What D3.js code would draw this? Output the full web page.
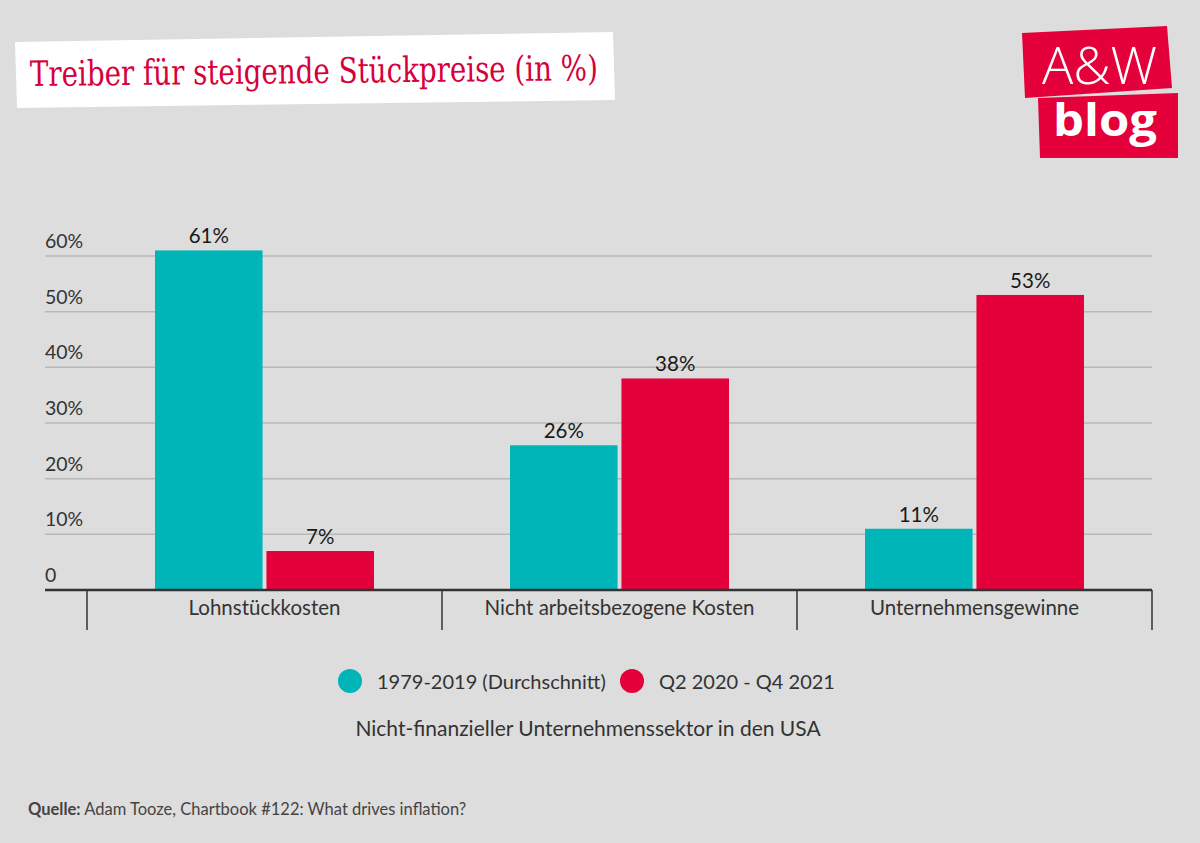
<!DOCTYPE html>
<html>
<head>
<meta charset="utf-8">
<script src="https://cdn.jsdelivr.net/npm/d3@7"></script>
<style>
  body { margin: 0; background: #dddddd; }
  svg { display: block; }
</style>
</head>
<body>
<div id="chart"></div>
<script>
(function () {

    const categories = ["Lohnstückkosten", "Nicht arbeitsbezogene Kosten", "Unternehmensgewinne"]
    const seriesNames = ["1979-2019 (Durchschnitt)", "Q2 2020 - Q4 2021"]
    const avg7919 = [61, 26, 11]
    const q2q4 = [7, 38, 53]
    const yTicks = [0, 10, 20, 30, 40, 50, 60]

    const colors = ["#00b5b8", "#e4003a"]
    const width = 1200, height = 843
    const font = "Lato, 'Open Sans', sans-serif"

    const rows = categories.map((c, i) => ({ cat: c, values: [avg7919[i], q2q4[i]] }))

    const svg = d3.select("#chart")
        .append("svg")
        .attr("width", width)
        .attr("height", height)

    svg.append("rect").attr("width", width).attr("height", height).attr("fill", "#dddddd")

    // title box
    svg.append("polygon")
        .attr("points", "15,42 613,32 615,100 17,108")
        .attr("fill", "#ffffff")
    svg.append("text")
        .attr("x", 30).attr("y", 86)
        .attr("transform", "rotate(-0.6 30 86)")
        .attr("font-family", "'DejaVu Serif Condensed', 'DejaVu Serif', serif")
        .attr("font-stretch", "condensed")
        .attr("font-size", 35)
        .attr("textLength", 568)
        .attr("lengthAdjust", "spacingAndGlyphs")
        .attr("fill", "#d6003c")
        .text("Treiber für steigende Stückpreise (in %)")

    // logo
    const logo = svg.append("g")
    logo.append("polygon").attr("points", "1022,33 1167,26 1172,88 1025,98").attr("fill", "#e4003a")
    logo.append("polygon").attr("points", "1038,98 1178,93 1178,158 1040,158").attr("fill", "#e4003a")
    logo.append("text")
        .attr("x", 1042).attr("y", 84)
        .attr("font-family", "'Open Sans', sans-serif")
        .attr("font-weight", 300)
        .attr("font-size", 52)
        .attr("textLength", 115)
        .attr("lengthAdjust", "spacingAndGlyphs")
        .attr("fill", "#fff")
        .text("A&W")
    logo.append("text")
        .attr("x", 1053).attr("y", 136)
        .attr("font-family", "'Open Sans', sans-serif")
        .attr("font-weight", 700)
        .attr("font-size", 44)
        .attr("textLength", 104)
        .attr("lengthAdjust", "spacingAndGlyphs")
        .attr("fill", "#fff")
        .text("blog")

    // scales
    const x0 = d3.scaleBand()
        .domain(categories)
        .range([87, 1152])
        .paddingInner(0)
        .paddingOuter(0)

    const groupWidth = 219
    const x1 = d3.scaleBand()
        .domain([0, 1])
        .range([0, groupWidth])
        .paddingInner(0.035)

    const y = d3.scaleLinear()
        .domain([0, 60])
        .range([590, 256])

    // grid
    const grid = svg.append("g")
    grid.selectAll("line")
        .data(yTicks.filter(d => d > 0))
        .enter()
        .append("line")
        .attr("x1", 45).attr("x2", 1152)
        .attr("y1", d => y(d)).attr("y2", d => y(d))
        .attr("stroke", "#b8b8b8")
        .attr("stroke-width", 1.5)

    grid.selectAll("text")
        .data(yTicks)
        .enter()
        .append("text")
        .attr("x", 45)
        .attr("y", d => y(d) - 8)
        .attr("font-family", font)
        .attr("font-size", 19.5)
        .attr("fill", "#333")
        .text(d => d === 0 ? "0" : d + "%")

    // bars
    const groups = svg.append("g")
        .selectAll("g")
        .data(rows)
        .enter()
        .append("g")
        .attr("transform", d => `translate(${x0(d.cat) + (x0.bandwidth() - groupWidth) / 2},0)`)

    groups.selectAll("rect")
        .data(d => d.values)
        .enter()
        .append("rect")
        .attr("x", (d, i) => x1(i))
        .attr("y", d => y(d))
        .attr("width", x1.bandwidth())
        .attr("height", d => y(0) - y(d))
        .attr("fill", (d, i) => colors[i])

    groups.selectAll("text")
        .data(d => d.values)
        .enter()
        .append("text")
        .attr("x", (d, i) => x1(i) + x1.bandwidth() / 2)
        .attr("y", d => y(d) - 7)
        .attr("text-anchor", "middle")
        .attr("font-family", font)
        .attr("font-size", 20.5)
        .attr("fill", "#1a1a1a")
        .text(d => d + "%")

    // x axis
    const xAxis = svg.append("g")
    xAxis.append("line")
        .attr("x1", 45).attr("x2", 1152)
        .attr("y1", y(0)).attr("y2", y(0))
        .attr("stroke", "#333")
        .attr("stroke-width", 2.5)

    const tickXs = categories.map(c => x0(c)).concat([x0.range()[1]])
    xAxis.selectAll("line.tick")
        .data(tickXs)
        .enter()
        .append("line")
        .attr("class", "tick")
        .attr("x1", d => d).attr("x2", d => d)
        .attr("y1", y(0)).attr("y2", y(0) + 40)
        .attr("stroke", "#333")
        .attr("stroke-width", 1.5)

    xAxis.selectAll("text")
        .data(categories)
        .enter()
        .append("text")
        .attr("x", d => x0(d) + x0.bandwidth() / 2)
        .attr("y", 615)
        .attr("text-anchor", "middle")
        .attr("font-family", font)
        .attr("font-size", 20.5)
        .attr("fill", "#333")
        .text(d => d)

    // legend
    const legendPos = [350, 632]
    const legend = svg.append("g")
    legend.selectAll("circle")
        .data(seriesNames)
        .enter()
        .append("circle")
        .attr("cx", (d, i) => legendPos[i])
        .attr("cy", 681)
        .attr("r", 12)
        .attr("fill", (d, i) => colors[i])
    legend.selectAll("text")
        .data(seriesNames)
        .enter()
        .append("text")
        .attr("x", (d, i) => legendPos[i] + 27)
        .attr("y", 689)
        .attr("font-family", font)
        .attr("font-size", 20)
        .attr("fill", "#333")
        .text(d => d)

    svg.append("text")
        .attr("x", 588).attr("y", 736)
        .attr("text-anchor", "middle")
        .attr("font-family", font)
        .attr("font-size", 21)
        .attr("fill", "#333")
        .text("Nicht-finanzieller Unternehmenssektor in den USA")

    // source
    const src = svg.append("text")
        .attr("x", 28).attr("y", 815)
        .attr("font-family", font)
        .attr("font-size", 16.5)
        .attr("fill", "#444")
    src.append("tspan").attr("font-weight", 700).text("Quelle:")
    src.append("tspan").text(" Adam Tooze, Chartbook #122: What drives inflation?")

})()
</script>
</body>
</html>
